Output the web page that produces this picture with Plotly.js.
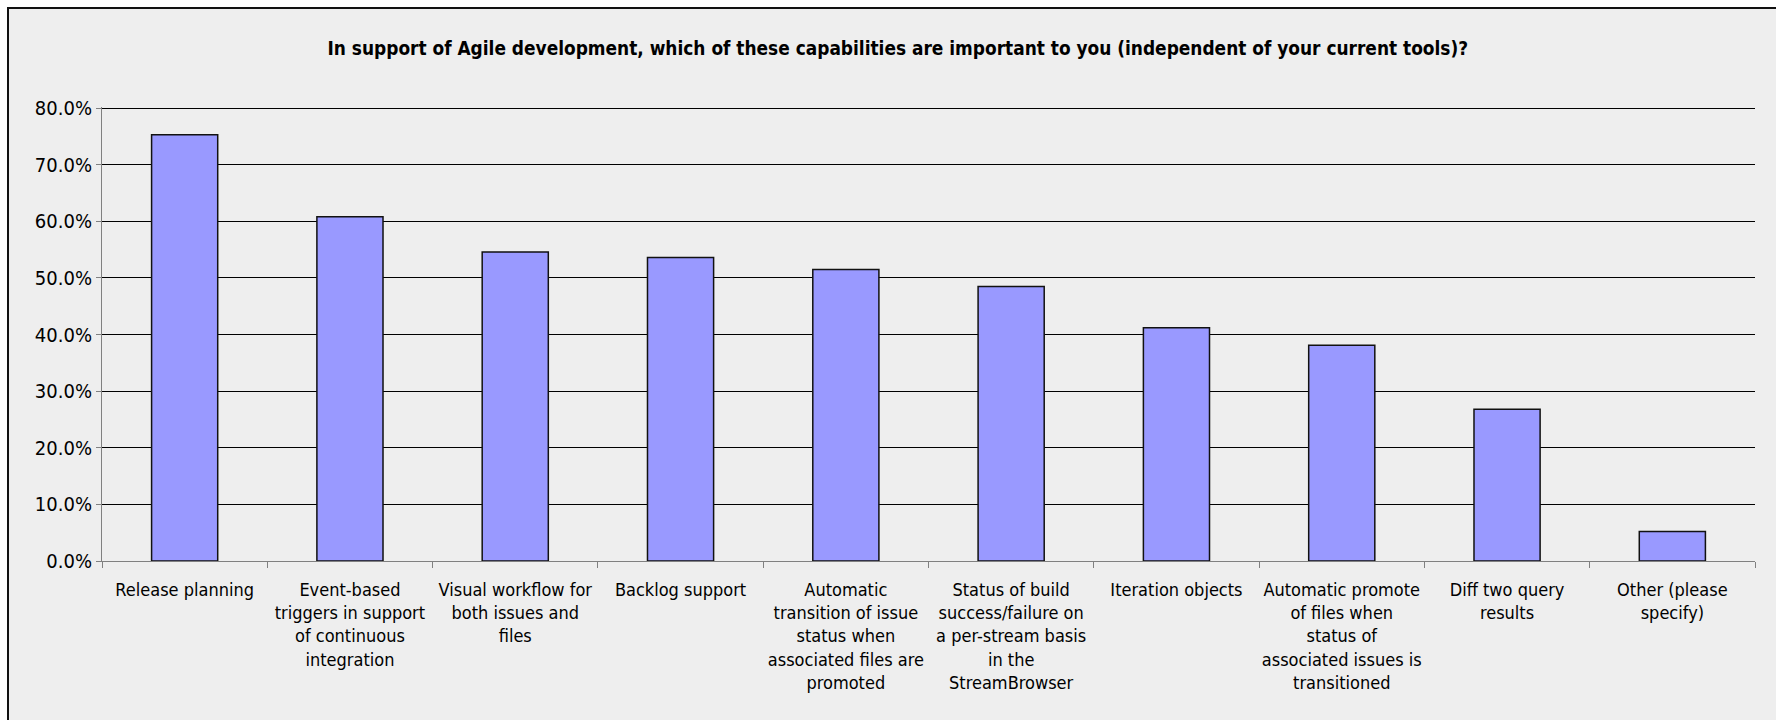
<!DOCTYPE html>
<html>
<head>
<meta charset="utf-8">
<script src="https://cdn.plot.ly/plotly-3.0.1.min.js"></script>
<style>
  html, body { margin:0; padding:0; background:#ffffff; width:1776px; height:720px; overflow:hidden; }
  #frame { position:absolute; left:7px; top:7px; width:1767px; height:711px;
           border-left:2px solid #111; border-top:2px solid #111; background:#eeeeee; }
  #chart { width:1767px; height:711px; }
</style>
</head>
<body>
<div id="frame"><div id="chart"></div></div>
<script>
const categories = [
  "Release planning",
  "Event-based<br>triggers in support<br>of continuous<br>integration",
  "Visual workflow for<br>both issues and<br>files",
  "Backlog support",
  "Automatic<br>transition of issue<br>status when<br>associated files are<br>promoted",
  "Status of build<br>success/failure on<br>a per-stream basis<br>in the<br>StreamBrowser",
  "Iteration objects",
  "Automatic promote<br>of files when<br>status of<br>associated issues is<br>transitioned",
  "Diff two query<br>results",
  "Other (please<br>specify)"
];
const values = [0.753, 0.608, 0.546, 0.536, 0.515, 0.485, 0.412, 0.381, 0.268, 0.052];
const titleText = "In support of Agile development, which of these capabilities are important to you (independent of your current tools)?";

const FONT = "'DejaVu Sans Condensed', 'DejaVu Sans', Tahoma, sans-serif";

const trace = {
  type: 'bar',
  x: categories,
  y: values,
  marker: { color: '#9999ff', line: { color: '#111111', width: 1.5 } },
  hoverinfo: 'skip'
};

const layout = {
  width: 1767, height: 711,
  paper_bgcolor: '#eeeeee',
  plot_bgcolor: '#eeeeee',
  margin: { l: 93, r: 21, t: 98, b: 159 },
  showlegend: false,
  bargap: 0.6,
  font: { family: FONT, size: 18, color: '#000000' },
  title: {
    text: '<b>' + titleText + '</b>',
    font: { family: FONT, size: 18.9, color: '#000000' },
    xref: 'container', x: 0.503, xanchor: 'center',
    yref: 'container', y: 0.945, yanchor: 'middle'
  },
  xaxis: {
    type: 'category',
    tickson: 'boundaries',
    ticks: 'outside', ticklen: 6, tickcolor: '#808080', tickwidth: 1,
    showline: true, linecolor: '#808080', linewidth: 1,
    showgrid: false,
    tickangle: 0,
    ticklabelstandoff: 12,
    tickfont: { family: FONT, size: 18, color: '#000000' },
    automargin: false
  },
  yaxis: {
    range: [0, 0.802],
    dtick: 0.1, tick0: 0,
    tickformat: '.1%',
    ticks: 'outside', ticklen: 5, tickcolor: '#808080', tickwidth: 1,
    showline: true, linecolor: '#808080', linewidth: 1,
    showgrid: true, gridcolor: '#000000', gridwidth: 1,
    zeroline: false,
    tickfont: { family: FONT, size: 20, color: '#000000' },
    automargin: false
  }
};

Plotly.newPlot('chart', [trace], layout, { staticPlot: true, displayModeBar: false });
</script>
</body>
</html>
